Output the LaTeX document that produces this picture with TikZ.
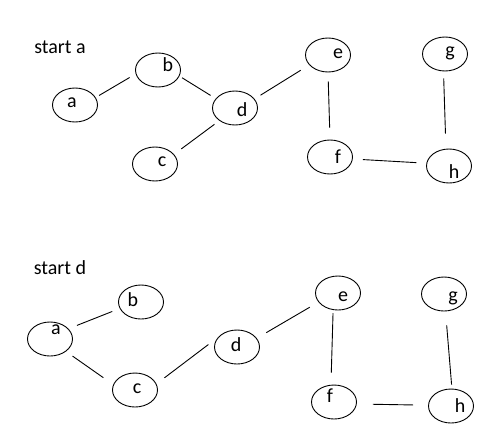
\documentclass[tikz,border=0pt]{standalone}
\usepackage{fontspec}
\setmainfont{Carlito}
\usetikzlibrary{shapes.geometric}

\begin{document}
\begin{tikzpicture}[x=1pt,y=-1pt,
    vert/.style={ellipse,draw,line width=0.9pt,minimum width=45pt,minimum height=34pt,inner sep=0pt},
    lbl/.style={font=\fontsize{20}{22}\selectfont,inner sep=0pt}]

      \useasboundingbox (0,0) rectangle (489,432);

      % first run
      \node[lbl] (start1) at (60,47) {start a};
      \node[vert,label={[lbl,xshift=-3pt,yshift=2pt]center:a}] (a1) at (75,105) {};
      \node[vert,label={[lbl,xshift=10pt,yshift=5pt]center:b}] (b1) at (158,70) {};
      \node[vert,label={[lbl,xshift=7pt,yshift=2pt]center:c}] (c1) at (155,164) {};
      \node[vert,label={[lbl,xshift=7pt,yshift=-2pt]center:d}] (d1) at (235,108) {};
      \node[vert,label={[lbl,xshift=10pt,yshift=1pt]center:e}] (e1) at (328,55) {};
      \node[vert,label={[lbl,xshift=8pt]center:f}] (f1) at (330,157) {};
      \node[vert,label={[lbl,xshift=5pt,yshift=1pt]center:g}] (g1) at (445,54) {};
      \node[vert,label={[lbl,xshift=5pt,yshift=-6pt]center:h}] (h1) at (449,166) {};

      % second run
      \node[lbl] (start2) at (60,268) {start d};
      \node[vert,label={[lbl,xshift=6pt,yshift=9pt]center:a}] (a2) at (50,339) {};
      \node[vert,label={[lbl,xshift=-8pt,yshift=2pt]center:b}] (b2) at (141,302) {};
      \node[vert,label={[lbl,xshift=2pt,yshift=1pt]center:c}] (c2) at (135,390) {};
      \node[vert,label={[lbl,xshift=-1pt,yshift=2pt]center:d}] (d2) at (237,347) {};
      \node[vert,label={[lbl,xshift=5pt,yshift=-4pt]center:e}] (e2) at (338,293) {};
      \node[vert,label={[lbl,xshift=-4pt,yshift=6pt]center:f}] (f2) at (334,402) {};
      \node[vert,label={[lbl,xshift=9pt,yshift=-4pt]center:g}] (g2) at (444,294) {};
      \node[vert,label={[lbl,xshift=9pt]center:h}] (h2) at (451,406) {};

      \begin{scope}[every edge/.style={draw,line width=0.9pt}]
        \path (a1.20)  edge[shorten <=4pt,shorten >=7pt]   (b1.190);
        \path (b1.344) edge[shorten <=3pt,shorten >=6pt]   (d1.154);
        \path (d1.219) edge[shorten <=6pt,shorten >=9pt]   (c1.27);
        \path (d1.25)  edge[shorten <=7pt,shorten >=10pt]  (e1.208);
        \path (e1.270) edge[shorten <=9pt,shorten >=12pt]  (f1.90);
        \path (f1.355) edge[shorten <=10pt,shorten >=10pt] (h1.173);
        \path (g1.265) edge[shorten <=7pt,shorten >=15pt]  (h1.100);

        \path (a2.29)  edge[shorten <=9pt,shorten >=8pt]   (b2.197);
        \path (a2.322) edge[shorten <=8pt,shorten >=12pt]  (c2.166);
        \path (c2.16)  edge[shorten <=10pt,shorten >=12pt] (d2.153);
        \path (d2.24)  edge[shorten <=11pt,shorten >=10pt] (e2.205);
        \path (e2.254) edge[shorten <=3pt,shorten >=12pt]  (f2.100);
        \path (f2.355) edge[shorten <=16pt,shorten >=15pt] (h2.178);
        \path (g2.275) edge[shorten <=14pt,shorten >=4pt]  (h2.87);
      \end{scope}

    \end{tikzpicture}
\end{document}
